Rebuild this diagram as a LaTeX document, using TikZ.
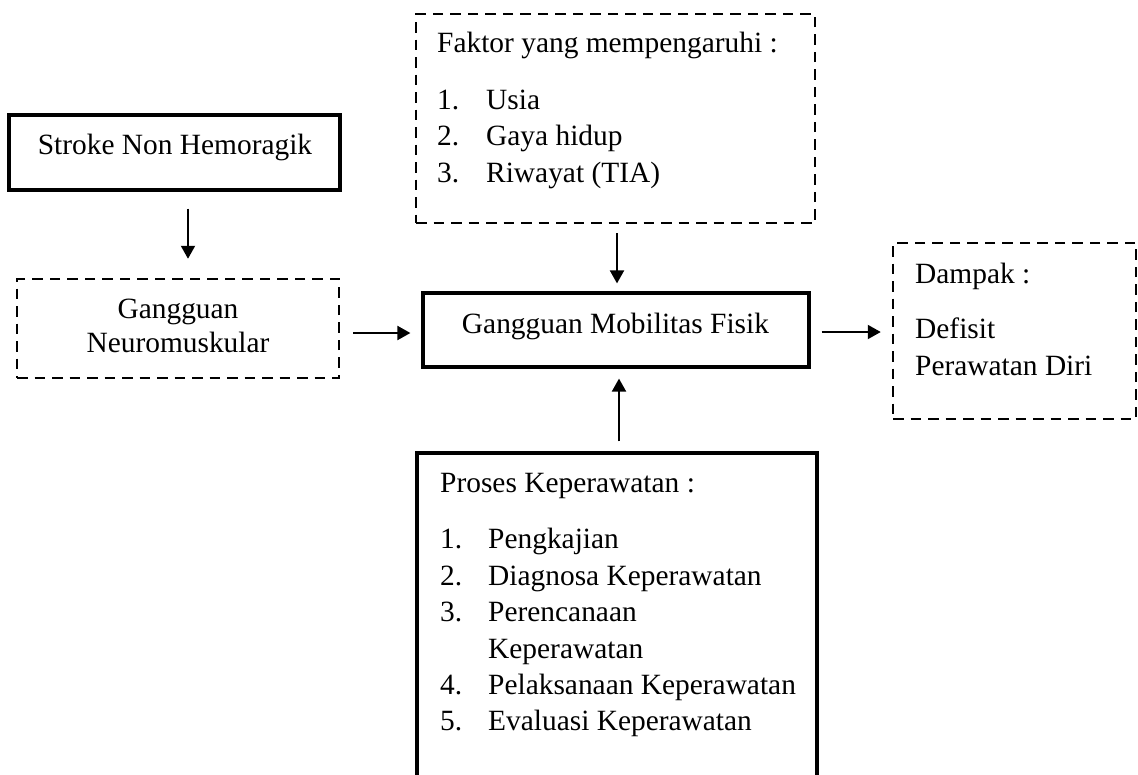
\documentclass[tikz,border=0pt]{standalone}
\usepackage{fontspec}
\setmainfont{Liberation Serif}
\usetikzlibrary{arrows.meta}
\tikzset{
  solidbox/.style={draw, line width=3.2pt, rectangle, inner sep=0pt},
  dashbox/.style={draw, line width=2.5pt, rectangle, inner sep=0pt, dash pattern=on 10.5pt off 7pt},
  arr/.style={line width=2pt, -{Triangle[length=13pt,width=14pt]}},
  txt/.style={inner sep=0pt, font=\fontsize{29.4}{36.5}\selectfont},
  ltxt/.style={txt, anchor=base west},
  ctxt/.style={txt, anchor=base},
}
\begin{document}
\begin{tikzpicture}[x=1pt,y=-1pt]
\clip (0,0) rectangle (1138,774);
\fill[white] (0,0) rectangle (1138,774);

% boxes
\node[solidbox, minimum width=331pt, minimum height=75pt] (stroke) at (174.5,152.5) {};
\node[dashbox, minimum width=322pt, minimum height=99pt] (gn) at (178,328.5) {};
\node[dashbox, minimum width=399pt, minimum height=209pt] (faktor) at (615.5,118.5) {};
\node[solidbox, minimum width=386pt, minimum height=74pt] (mob) at (616,330) {};
\node[dashbox, minimum width=243pt, minimum height=176pt] (dampak) at (1014.5,331) {};
\node[solidbox, minimum width=400pt, minimum height=400pt] (proses) at (617,653) {};

% texts
\node[ctxt] (t-stroke) at (175,154) {Stroke Non Hemoragik};
\node[ctxt] (t-gn1) at (178,318) {Gangguan};
\node[ctxt] (t-gn2) at (178,352) {Neuromuskular};
\node[ctxt] (t-mob) at (615.5,333) {Gangguan Mobilitas Fisik};

\node[ltxt] (t-f0) at (437,52) {Faktor yang mempengaruhi :};
\node[ltxt] (t-f1n) at (437,109) {1.};
\node[ltxt] (t-f1) at (486,109) {Usia};
\node[ltxt] (t-f2n) at (437,145.5) {2.};
\node[ltxt] (t-f2) at (486,145.5) {Gaya hidup};
\node[ltxt] (t-f3n) at (437,182) {3.};
\node[ltxt] (t-f3) at (486,182) {Riwayat (TIA)};

\node[ltxt] (t-d0) at (915,283) {Dampak :};
\node[ltxt] (t-d1) at (915,338.5) {Defisit};
\node[ltxt] (t-d2) at (915,375) {Perawatan Diri};

\node[ltxt] (t-p0) at (440,492) {Proses Keperawatan :};
\node[ltxt] (t-p1n) at (440,548.5) {1.};
\node[ltxt] (t-p1) at (488,548.5) {Pengkajian};
\node[ltxt] (t-p2n) at (440,585) {2.};
\node[ltxt] (t-p2) at (488,585) {Diagnosa Keperawatan};
\node[ltxt] (t-p3n) at (440,621.5) {3.};
\node[ltxt] (t-p3) at (488,621.5) {Perencanaan};
\node[ltxt] (t-p3b) at (488,658) {Keperawatan};
\node[ltxt] (t-p4n) at (440,694) {4.};
\node[ltxt] (t-p4) at (488,694) {Pelaksanaan Keperawatan};
\node[ltxt] (t-p5n) at (440,730) {5.};
\node[ltxt] (t-p5) at (488,730) {Evaluasi Keperawatan};

% connectors
\draw[arr, shorten <=17pt, shorten >=19pt] ([xshift=13.5pt]stroke.south) -- ([xshift=10pt]gn.north);
\draw[arr, shorten <=9pt, shorten >=8pt] ([xshift=1.5pt]faktor.south) -- ([xshift=1pt]mob.north);
\draw[arr, shorten <=13pt, shorten >=11pt] ([yshift=-4.5pt]gn.east) -- ([yshift=-3pt]mob.west);
\draw[arr, shorten <=11pt, shorten >=11pt] ([yshift=-2pt]mob.east) -- ([yshift=-1pt]dampak.west);
\draw[arr, shorten <=10pt, shorten >=10pt] ([xshift=2pt]proses.north) -- ([xshift=3pt]mob.south);
\end{tikzpicture}
\end{document}
